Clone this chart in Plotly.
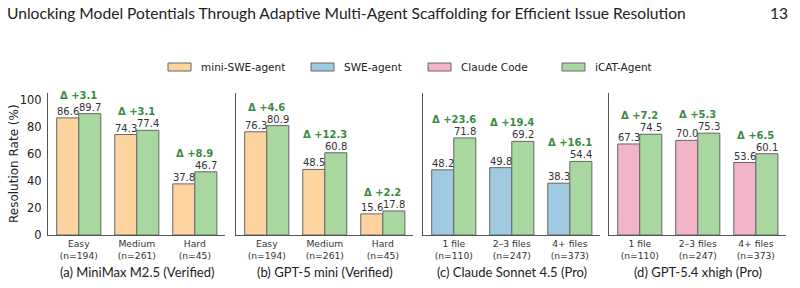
import plotly.graph_objects as go

# ---------------- data ----------------
panel_titles = ["(a) MiniMax M2.5 (Verified)", "(b) GPT-5 mini (Verified)",
                "(c) Claude Sonnet 4.5 (Pro)", "(d) GPT-5.4 xhigh (Pro)"]
cat_names = [["Easy", "Medium", "Hard"], ["Easy", "Medium", "Hard"],
             ["1 file", "2\u20133 files", "4+ files"], ["1 file", "2\u20133 files", "4+ files"]]
cat_counts = [["n=194", "n=261", "n=45"], ["n=194", "n=261", "n=45"],
              ["n=110", "n=247", "n=373"], ["n=110", "n=247", "n=373"]]
baseline_names = ["mini-SWE-agent", "mini-SWE-agent", "SWE-agent", "Claude Code"]
baseline_vals = [[86.6, 74.3, 37.8], [76.3, 48.5, 15.6], [48.2, 49.8, 38.3], [67.3, 70.0, 53.6]]
icat_name = "iCAT-Agent"
icat_vals = [[89.7, 77.4, 46.7], [80.9, 60.8, 17.8], [71.8, 69.2, 54.4], [74.5, 75.3, 60.1]]
legend_names = ["mini-SWE-agent", "SWE-agent", "Claude Code", "iCAT-Agent"]
y_ticks = [0, 20, 40, 60, 80, 100]

# ---------------- styles ----------------
colors = {"mini-SWE-agent": "#fdd4a0", "SWE-agent": "#a0cae2",
          "Claude Code": "#f2b5c8", "iCAT-Agent": "#a8d7a0"}
edge = "#666666"
axis_col = "#555555"
delta_col = "#3b8a45"
txt_col = "#333333"
W, H = 800, 288
px = lambda x: x / W
py = lambda y: 1 - y / H

domains = [(48, 225), (236, 413), (423, 600), (609, 786)]
y_top, y_bot = 93, 235
bw = 0.38

fig = go.Figure()
annotations = []
shapes = []

for p in range(4):
    xa = "x" if p == 0 else f"x{p+1}"
    ya = "y" if p == 0 else f"y{p+1}"
    idx = list(range(len(cat_names[p])))
    fig.add_trace(go.Bar(x=idx, y=baseline_vals[p], width=bw, offset=-bw,
                         marker=dict(color=colors[baseline_names[p]], line=dict(color=edge, width=1)),
                         name=baseline_names[p], showlegend=False, xaxis=xa, yaxis=ya))
    fig.add_trace(go.Bar(x=idx, y=icat_vals[p], width=bw, offset=0,
                         marker=dict(color=colors[icat_name], line=dict(color=edge, width=1)),
                         name=icat_name, showlegend=False, xaxis=xa, yaxis=ya))
    d0, d1 = domains[p]
    ticktext = [f"{n}<br>({c})" for n, c in zip(cat_names[p], cat_counts[p])]
    fig.layout[("xaxis" if p == 0 else f"xaxis{p+1}")] = dict(
        domain=[px(d0), px(d1)], range=[-0.53, 2.52], anchor=ya,
        tickmode="array", tickvals=idx, ticktext=ticktext,
        tickfont=dict(family="DejaVu Sans", size=9.2, color=txt_col),
        showline=True, linecolor=axis_col, linewidth=1, ticks="", showgrid=False,
        zeroline=False, fixedrange=True, automargin=False, ticklabelstandoff=0)
    fig.layout[("yaxis" if p == 0 else f"yaxis{p+1}")] = dict(
        domain=[py(y_bot), py(y_top)], range=[0, 105], anchor=xa,
        tickmode="array", tickvals=y_ticks, showticklabels=(p == 0),
        tickfont=dict(family="DejaVu Sans", size=11.5, color="#222222"),
        showline=True, linecolor=axis_col, linewidth=1, ticks="", showgrid=False,
        zeroline=False, automargin=False, ticklabelstandoff=3)
    for i in idx:
        b, g = baseline_vals[p][i], icat_vals[p][i]
        for xv, v in ((i - bw / 2, b), (i + bw / 2, g)):
            annotations.append(dict(x=xv, y=v, xref=xa, yref=ya, text=f"{v:.1f}",
                                    showarrow=False, yanchor="bottom", yshift=-1,
                                    font=dict(family="DejaVu Sans", size=10, color=txt_col)))
        delta = round(g - b, 1)
        annotations.append(dict(x=i, y=max(b, g), xref=xa, yref=ya, text=f"<b>\u0394 +{delta:.1f}</b>",
                                showarrow=False, yanchor="bottom", yshift=11,
                                font=dict(family="DejaVu Sans", size=10, color=delta_col)))
    annotations.append(dict(x=px((d0 + d1) / 2), y=py(272), xref="paper", yref="paper",
                            text=panel_titles[p], showarrow=False, xanchor="center", yanchor="middle",
                            font=dict(family="Lato", size=13, color="#222222")))

# y-axis title
annotations.append(dict(x=px(14), y=py(164), xref="paper", yref="paper", text="Resolution Rate (%)",
                        textangle=-90, showarrow=False, xanchor="center", yanchor="middle",
                        font=dict(family="DejaVu Sans", size=12, color="#222222")))

# header
annotations.append(dict(x=px(5), y=py(13), xref="paper", yref="paper",
                        text="Unlocking Model Potentials Through Adaptive Multi-Agent Scaffolding for Efficient Issue Resolution",
                        showarrow=False, xanchor="left", yanchor="middle",
                        font=dict(family="Lato", size=15.6, color="#222222")))
annotations.append(dict(x=px(790), y=py(13), xref="paper", yref="paper", text="13",
                        showarrow=False, xanchor="right", yanchor="middle",
                        font=dict(family="Lato", size=15.6, color="#222222")))

# legend (manual)
leg_x = [168, 311, 428, 562]
for name, lx in zip(legend_names, leg_x):
    shapes.append(dict(type="rect", xref="paper", yref="paper",
                       x0=px(lx), x1=px(lx + 23), y0=py(71), y1=py(63),
                       fillcolor=colors[name], line=dict(color=edge, width=1)))
    annotations.append(dict(x=px(lx + 31), y=py(67), xref="paper", yref="paper", text=name,
                            showarrow=False, xanchor="left", yanchor="middle",
                            font=dict(family="DejaVu Sans", size=10.5, color="#222222")))

fig.update_layout(width=W, height=H, margin=dict(l=0, r=0, t=0, b=0),
                  paper_bgcolor="white", plot_bgcolor="white", barmode="overlay",
                  annotations=annotations, shapes=shapes, showlegend=False)
fig.write_html("out.html")
